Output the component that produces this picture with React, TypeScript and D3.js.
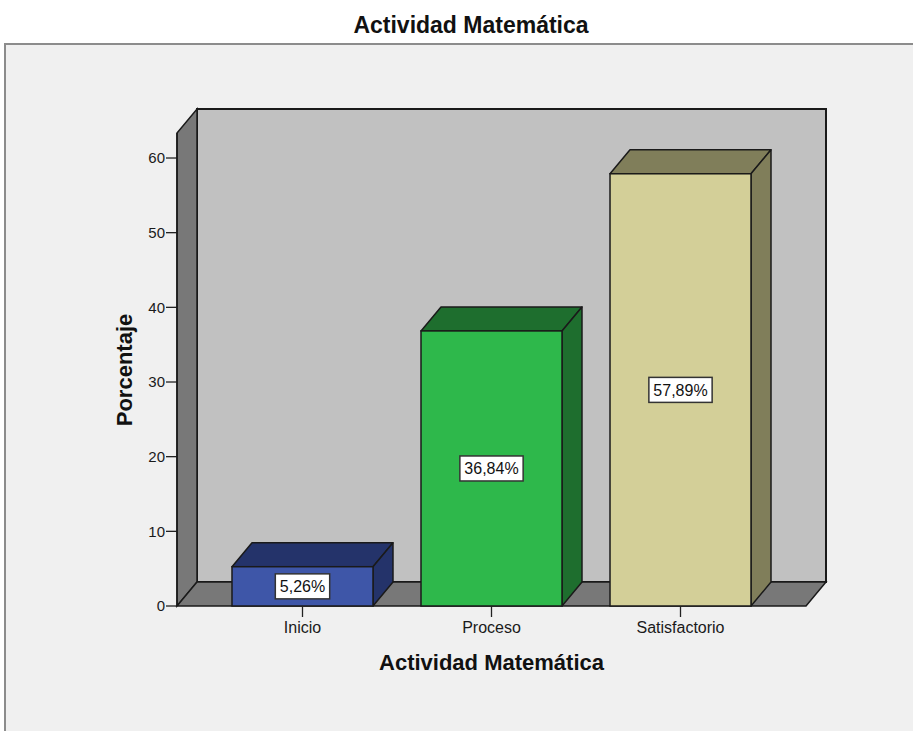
import React, { useEffect, useRef } from "react";
import * as d3 from "d3";

// Category names, percentages and colours for the bars
const categories = ["Inicio", "Proceso", "Satisfactorio"];
const percentages = [5.26, 36.84, 57.89];
const frontColors = ["#3e56a8", "#2eb84b", "#d3cf98"];
const shadeColors = ["#24336a", "#1e6e2e", "#807e5a"];
const yTicks = [0, 10, 20, 30, 40, 50, 60];

const W = 913;
const H = 731;

export default function App() {
  const ref = useRef<SVGSVGElement | null>(null);

  useEffect(() => {
    const svg = d3.select(ref.current);
    svg.selectAll("*").remove();

    const font = "'Liberation Sans', Arial, sans-serif";
    const stroke = "#1a1a1a";

    // 3D depth offset
    const dx = 20;
    const dy = -24;

    // plot frame (front plane)
    const left = 177;
    const right = 806;
    const y = d3.scaleLinear().domain([0, 63.35]).range([606, 133]);
    const x = d3
      .scaleBand<string>()
      .domain(categories)
      .range([left, right])
      .paddingInner(0.254)
      .paddingOuter(0.291);

    const y0 = y(0);
    const yTop = y(63.35);

    // page frame
    svg.append("rect").attr("width", W).attr("height", H).attr("fill", "#ffffff");
    svg
      .append("rect")
      .attr("x", 5)
      .attr("y", 44)
      .attr("width", W + 20)
      .attr("height", H + 20)
      .attr("fill", "#f0f0f0")
      .attr("stroke", "#8c8c8c")
      .attr("stroke-width", 2);

    // title
    svg
      .append("text")
      .attr("x", 471)
      .attr("y", 33)
      .attr("text-anchor", "middle")
      .attr("font-family", font)
      .attr("font-weight", "bold")
      .attr("font-size", 23)
      .attr("fill", "#111")
      .text("Actividad Matemática");

    const poly = (pts: [number, number][]) => pts.map((p) => p.join(",")).join(" ");

    // back wall
    svg
      .append("polygon")
      .attr(
        "points",
        poly([
          [left + dx, yTop + dy],
          [right + dx, yTop + dy],
          [right + dx, y0 + dy],
          [left + dx, y0 + dy],
        ])
      )
      .attr("fill", "#c1c1c1")
      .attr("stroke", stroke)
      .attr("stroke-width", 2);

    // side wall
    svg
      .append("polygon")
      .attr(
        "points",
        poly([
          [left, y0],
          [left, yTop],
          [left + dx, yTop + dy],
          [left + dx, y0 + dy],
        ])
      )
      .attr("fill", "#787878")
      .attr("stroke", stroke)
      .attr("stroke-width", 1.5);

    // floor
    svg
      .append("polygon")
      .attr(
        "points",
        poly([
          [left, y0],
          [right, y0],
          [right + dx, y0 + dy],
          [left + dx, y0 + dy],
        ])
      )
      .attr("fill", "#787878")
      .attr("stroke", stroke)
      .attr("stroke-width", 1.5);

    // y axis ticks
    const yAxis = svg.append("g");
    yTicks.forEach((t) => {
      yAxis
        .append("line")
        .attr("x1", left - 11)
        .attr("x2", left)
        .attr("y1", y(t))
        .attr("y2", y(t))
        .attr("stroke", "#222")
        .attr("stroke-width", 1.3);
      yAxis
        .append("text")
        .attr("x", left - 12)
        .attr("y", y(t))
        .attr("dy", "0.36em")
        .attr("text-anchor", "end")
        .attr("font-family", font)
        .attr("font-size", 15)
        .attr("fill", "#1a1a1a")
        .text(String(t));
    });
    yAxis
      .append("line")
      .attr("x1", left)
      .attr("x2", left)
      .attr("y1", yTop)
      .attr("y2", y0)
      .attr("stroke", stroke)
      .attr("stroke-width", 1.5);

    // bars
    const bars = svg.append("g");
    categories.forEach((c, i) => {
      const v = percentages[i];
      const x0 = x(c)!;
      const x1 = x0 + x.bandwidth();
      const yv = y(v);
      const g = bars.append("g");
      // top face
      g.append("polygon")
        .attr(
          "points",
          poly([
            [x0, yv],
            [x0 + dx, yv + dy],
            [x1 + dx, yv + dy],
            [x1, yv],
          ])
        )
        .attr("fill", shadeColors[i])
        .attr("stroke", stroke)
        .attr("stroke-width", 1.5)
        .attr("stroke-linejoin", "round");
      // side face
      g.append("polygon")
        .attr(
          "points",
          poly([
            [x1, yv],
            [x1 + dx, yv + dy],
            [x1 + dx, y0 + dy],
            [x1, y0],
          ])
        )
        .attr("fill", shadeColors[i])
        .attr("stroke", stroke)
        .attr("stroke-width", 1.5)
        .attr("stroke-linejoin", "round");
      // front face
      g.append("rect")
        .attr("x", x0)
        .attr("y", yv)
        .attr("width", x1 - x0)
        .attr("height", y0 - yv)
        .attr("fill", frontColors[i])
        .attr("stroke", stroke)
        .attr("stroke-width", 1.5);

      // value label
      const cx = (x0 + x1) / 2;
      const cy = (yv + y0) / 2;
      const lbl = g.append("g");
      const box = lbl.append("rect");
      const txt = lbl
        .append("text")
        .attr("x", cx)
        .attr("y", cy)
        .attr("dy", "0.36em")
        .attr("text-anchor", "middle")
        .attr("font-family", font)
        .attr("font-size", 16)
        .attr("fill", "#111")
        .text(v.toFixed(2).replace(".", ",") + "%");
      const tw = (txt.node() as SVGTextElement).getComputedTextLength();
      const bw = tw + 9;
      const bh = 25;
      box
        .attr("x", cx - bw / 2)
        .attr("y", cy - bh / 2)
        .attr("width", bw)
        .attr("height", bh)
        .attr("fill", "#ffffff")
        .attr("stroke", "#333")
        .attr("stroke-width", 1.5);
    });

    // category ticks and labels
    categories.forEach((c) => {
      const cx = x(c)! + x.bandwidth() / 2;
      svg
        .append("line")
        .attr("x1", cx)
        .attr("x2", cx)
        .attr("y1", y0)
        .attr("y2", y0 + 11)
        .attr("stroke", "#222")
        .attr("stroke-width", 1.3);
      svg
        .append("text")
        .attr("x", cx)
        .attr("y", 633)
        .attr("text-anchor", "middle")
        .attr("font-family", font)
        .attr("font-size", 16)
        .attr("fill", "#1a1a1a")
        .text(c);
    });

    // axis titles
    svg
      .append("text")
      .attr("x", (left + right) / 2)
      .attr("y", 670)
      .attr("text-anchor", "middle")
      .attr("font-family", font)
      .attr("font-weight", "bold")
      .attr("font-size", 22)
      .attr("fill", "#111")
      .text("Actividad Matemática");
    svg
      .append("text")
      .attr("transform", `translate(132,370) rotate(-90)`)
      .attr("text-anchor", "middle")
      .attr("font-family", font)
      .attr("font-weight", "bold")
      .attr("font-size", 22)
      .attr("fill", "#111")
      .text("Porcentaje");
  }, []);

  return (
    <svg
      ref={ref}
      width={W}
      height={H}
      style={{ position: "absolute", left: 0, top: 0, display: "block" }}
    />
  );
}
